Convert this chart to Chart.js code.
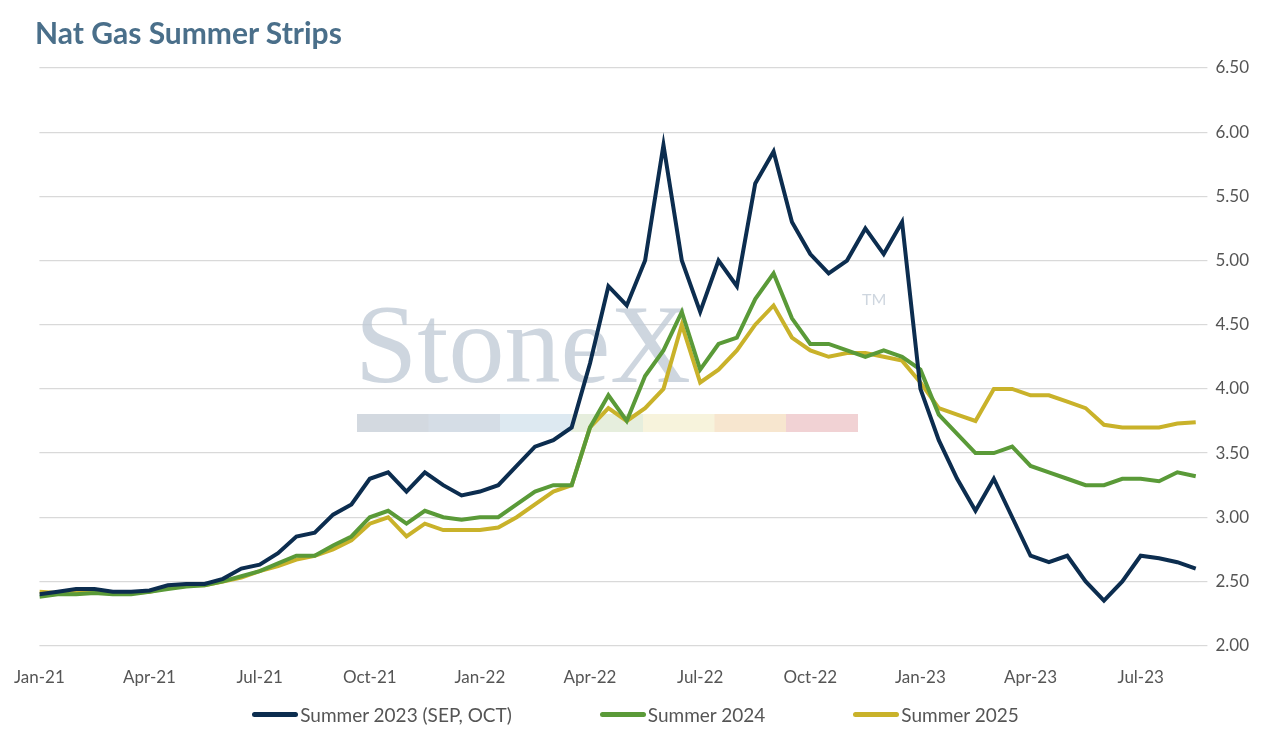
<!DOCTYPE html>
<html>
<head>
<meta charset="utf-8">
<script src="https://cdn.jsdelivr.net/npm/chart.js@4"></script>
<style>
  body { margin: 0; background: #fff; }
  #wrap { width: 1271px; height: 734px; position: relative; }
  #chart { position: absolute; left: 0; top: 0; }
  #title { position: absolute; left: 35px; top: 14px; margin: 0; font: bold 30px Lato, sans-serif; color: #4a6f8a; }
  #legend { position: absolute; top: 703px; left: 0; width: 1271px; display: flex; justify-content: center; gap: 88px; font: 19px Lato, sans-serif; color: #555; }
  #legend span { display: flex; align-items: center; }
  #legend i { display: inline-block; width: 46px; height: 5px; border-radius: 3px; margin-right: 2px; }
</style>
</head>
<body>
<div id="wrap">
  <canvas id="chart"></canvas>
  <h1 id="title">Nat Gas Summer Strips</h1>
  <div id="legend"></div>
</div>
<script>
// x = months since Jan-21, one reading every half month
const monthLabels = ["Jan-21", "Apr-21", "Jul-21", "Oct-21", "Jan-22", "Apr-22", "Jul-22", "Oct-22", "Jan-23", "Apr-23", "Jul-23"];

const summer2023 = [2.40, 2.42, 2.44, 2.44, 2.42, 2.42, 2.43, 2.47, 2.48, 2.48, 2.52, 2.60,
  2.63, 2.72, 2.85, 2.88, 3.02, 3.10, 3.30, 3.35, 3.20, 3.35, 3.25, 3.17,
  3.20, 3.25, 3.40, 3.55, 3.60, 3.70, 4.20, 4.80, 4.65, 5.00, 5.90, 5.00,
  4.60, 5.00, 4.80, 5.60, 5.85, 5.30, 5.05, 4.90, 5.00, 5.25, 5.05, 5.30,
  4.00, 3.60, 3.30, 3.05, 3.30, 3.00, 2.70, 2.65, 2.70, 2.50, 2.35, 2.50,
  2.70, 2.68, 2.65, 2.60];

const summer2024 = [2.38, 2.40, 2.40, 2.41, 2.40, 2.40, 2.42, 2.44, 2.46, 2.47, 2.50, 2.54,
  2.58, 2.64, 2.70, 2.70, 2.78, 2.85, 3.00, 3.05, 2.95, 3.05, 3.00, 2.98,
  3.00, 3.00, 3.10, 3.20, 3.25, 3.25, 3.70, 3.95, 3.75, 4.10, 4.30, 4.60,
  4.15, 4.35, 4.40, 4.70, 4.90, 4.55, 4.35, 4.35, 4.30, 4.25, 4.30, 4.25,
  4.15, 3.80, 3.65, 3.50, 3.50, 3.55, 3.40, 3.35, 3.30, 3.25, 3.25, 3.30,
  3.30, 3.28, 3.35, 3.32];

const summer2025 = [2.42, 2.41, 2.42, 2.42, 2.41, 2.41, 2.42, 2.45, 2.47, 2.47, 2.50, 2.53,
  2.58, 2.62, 2.67, 2.70, 2.75, 2.82, 2.95, 3.00, 2.85, 2.95, 2.90, 2.90,
  2.90, 2.92, 3.00, 3.10, 3.20, 3.25, 3.70, 3.85, 3.75, 3.85, 4.00, 4.50,
  4.05, 4.15, 4.30, 4.50, 4.65, 4.40, 4.30, 4.25, 4.28, 4.28, 4.25, 4.22,
  4.05, 3.85, 3.80, 3.75, 4.00, 4.00, 3.95, 3.95, 3.90, 3.85, 3.72, 3.70,
  3.70, 3.70, 3.73, 3.74];

const toPoints = arr => arr.map((v, i) => ({ x: i * 0.5, y: v }));

const series = [
  { label: "Summer 2023 (SEP, OCT)", data: summer2023, color: "#0c2d4f" },
  { label: "Summer 2024", data: summer2024, color: "#5a9a38" },
  { label: "Summer 2025", data: summer2025, color: "#c9b22a" }
];

document.getElementById("legend").innerHTML = series
  .map(s => `<span><i style="background:${s.color}"></i>${s.label}</span>`).join("");

const watermark = {
  id: "watermark",
  beforeDatasetsDraw(chart) {
    const c = chart.ctx;
    c.save();
    c.fillStyle = "rgba(190,200,212,0.75)";
    c.font = "112px 'Liberation Serif', serif";
    c.textBaseline = "alphabetic";
    c.fillText("StoneX", 355, 382);
    c.font = "16px Lato";
    c.fillText("TM", 862, 305);
    const cols = ["#d3d9e0", "#d5dde6", "#dde9f1", "#e6eedd", "#f7f3dc", "#f7e6cf", "#f1d2d4"];
    cols.forEach((col, i) => {
      c.fillStyle = col;
      c.fillRect(357 + i * 71.5, 414, 72, 18);
    });
    c.restore();
  }
};

new Chart(document.getElementById("chart").getContext("2d"), {
  type: "line",
  data: {
    datasets: series.map(s => ({
      label: s.label, data: toPoints(s.data), borderColor: s.color, backgroundColor: s.color
    }))
  },
  options: {
    responsive: true,
    maintainAspectRatio: false,
    animation: false,
    elements: { line: { borderWidth: 4, tension: 0 }, point: { radius: 0 } },
    layout: { padding: { left: 26, right: 14, top: 68, bottom: 32 } },
    scales: {
      x: {
        type: "linear", min: 0, max: 31.6,
        grid: { display: false },
        border: { display: false },
        afterBuildTicks: axis => { axis.ticks = monthLabels.map((_, i) => ({ value: i * 3 })); },
        ticks: {
          autoSkip: false, maxRotation: 0, padding: 14,
          color: "#555", font: { family: "Lato", size: 17 },
          callback: v => monthLabels[Math.round(v / 3)] ?? ""
        }
      },
      y: {
        position: "right", min: 2, max: 6.5,
        grid: { color: "#d9d9d9", lineWidth: 1.2 },
        border: { display: false },
        ticks: {
          stepSize: 0.5, color: "#555", padding: 8,
          font: { family: "Lato", size: 17 },
          callback: v => v.toFixed(2)
        }
      }
    },
    plugins: {
      legend: { display: false },
      tooltip: { enabled: false }
    }
  },
  plugins: [watermark]
});
</script>
</body>
</html>
